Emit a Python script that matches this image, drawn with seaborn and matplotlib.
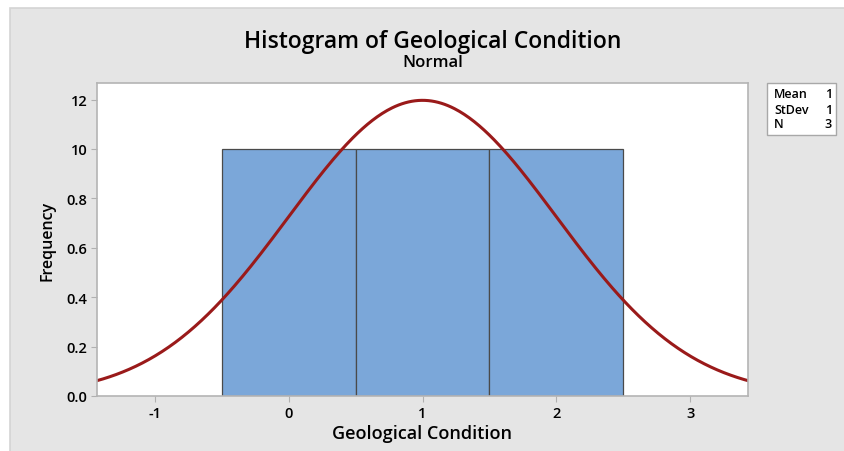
import numpy as np
import pandas as pd
import matplotlib
matplotlib.use("Agg")
import matplotlib.pyplot as plt
import seaborn as sns
from matplotlib.patches import Rectangle

# Data
values = [0, 1, 2]
bin_edges = [-0.5, 0.5, 1.5, 2.5]
stat_labels = ["Mean", "StDev", "N"]
stat_values = ["1", "1", "3"]
y_ticks = [0.0, 0.2, 0.4, 0.6, 0.8, 1.0, 1.2]
y_tick_labels = ["0.0", "0.2", "0.4", "0.6", "0.8", "10", "12"]
x_ticks = [-1, 0, 1, 2, 3]
x_tick_labels = ["-1", "0", "1", "2", "3"]

sns.set_style("white")
plt.rcParams["font.family"] = ["Open Sans", "DejaVu Sans"]
plt.rcParams["text.color"] = "black"
plt.rcParams["axes.labelcolor"] = "black"
plt.rcParams["xtick.color"] = "black"
plt.rcParams["ytick.color"] = "black"

W, H = 845, 452
fig = plt.figure(figsize=(W / 100, H / 100), dpi=100)
fig.patch.set_facecolor("white")
bg = Rectangle((10 / W, -0.05), 1.1, 1.05 - 9 / H, transform=fig.transFigure,
               facecolor="#e5e5e5", edgecolor="#d4d4d4", linewidth=1.2, zorder=-10)
fig.patches.append(bg)

ax = fig.add_axes([97 / W, 1 - 397 / H, (748 - 97) / W, (397 - 84) / H])
ax.set_facecolor("white")

df = pd.DataFrame({"Geological Condition": values})
sns.histplot(data=df, x="Geological Condition", bins=bin_edges, ax=ax,
             color="#7ba7d9", alpha=1.0, edgecolor="#4a4a4a", linewidth=0.9)

mean = float(np.mean(values))
sd = float(np.std(values, ddof=1))
n = len(values)
bw = bin_edges[1] - bin_edges[0]
xs = np.linspace(-1.45, 3.45, 400)
ys = n * bw * np.exp(-0.5 * ((xs - mean) / sd) ** 2) / (sd * np.sqrt(2 * np.pi))
sns.lineplot(x=xs, y=ys, ax=ax, color="#9a1a1a", linewidth=2.2)

ax.set_xlim(-1.433, 3.433)
ax.set_ylim(0, 1.267)
ax.set_xticks(x_ticks)
ax.set_xticklabels(x_tick_labels)
ax.set_yticks(y_ticks)
ax.set_yticklabels(y_tick_labels)
ax.tick_params(axis="both", which="both", direction="out", length=4, width=0.8,
               color="#b0b0b0", labelcolor="black", labelsize=10.5, pad=3, left=True, bottom=True)
for lab in ax.get_xticklabels() + ax.get_yticklabels():
    lab.set_fontweight("semibold")
for sp in ax.spines.values():
    sp.set_visible(True)
    sp.set_color("#b4b4b4")
    sp.set_linewidth(1.2)

ax.set_xlabel("Geological Condition", fontsize=13, fontweight="semibold", labelpad=3)
ax.set_ylabel("Frequency", fontsize=11.5, fontweight="semibold", labelpad=8)

fig.text(433 / W, 1 - 42 / H, "Histogram of Geological Condition", ha="center", va="center",
         fontsize=16.5, fontweight="semibold")
fig.text(433 / W, 1 - 63 / H, "Normal", ha="center", va="center",
         fontsize=12, fontweight="semibold")

# Stats box
box = Rectangle((767 / W, 1 - 136 / H), (836 - 767) / W, (136 - 84) / H, transform=fig.transFigure,
                facecolor="white", edgecolor="#a8a8a8", linewidth=1.0)
fig.patches.append(box)
for i, (lab, val) in enumerate(zip(stat_labels, stat_values)):
    yy = 1 - (95 + i * 15) / H
    fig.text(774 / W, yy, lab, ha="left", va="center", fontsize=9, fontweight="semibold")
    fig.text(832 / W, yy, val, ha="right", va="center", fontsize=9, fontweight="semibold")

fig.savefig("out.png", dpi=100)
